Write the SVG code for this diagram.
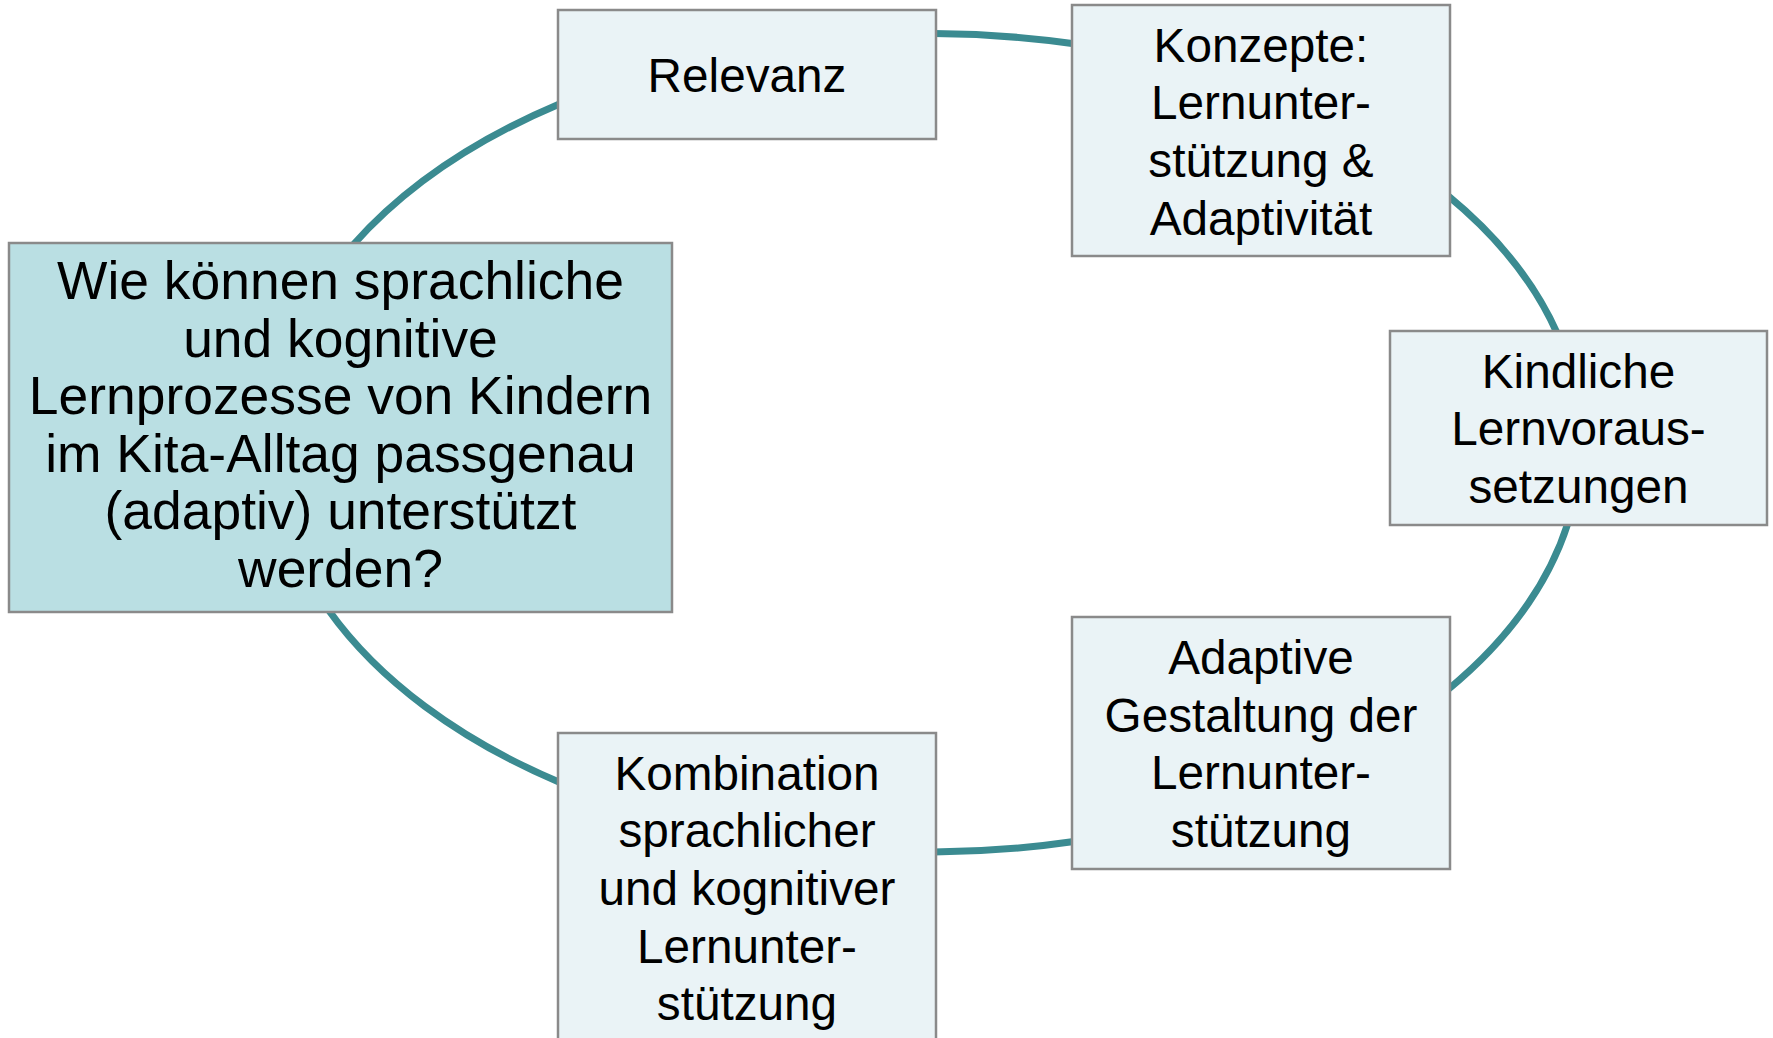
<svg xmlns="http://www.w3.org/2000/svg" width="1773" height="1038" viewBox="0 0 1773 1038">
<style>
.box{fill:#eaf3f6;stroke:#8a8a8a;stroke-width:2.5}
.main{fill:#badfe3;stroke:#8a8a8a;stroke-width:2.5}
.conn{fill:none;stroke:#3b8b91;stroke-width:7}
.t{font-family:"Liberation Sans",Arial,sans-serif;font-size:47.7px;fill:#000;text-anchor:middle}
.tm{font-family:"Liberation Sans",Arial,sans-serif;font-size:53.4px;fill:#000;text-anchor:middle}
</style>
<rect width="1773" height="1038" fill="#ffffff"/>
<g id="connectors">
<path class="conn" d="M353,245 A655.8,409.3 0 0 1 560,103.7"/>
<path class="conn" d="M934,33.5 A655.8,409.3 0 0 1 1074,43.8"/>
<path class="conn" d="M1448,195.8 A655.8,409.3 0 0 1 1557,333"/>
<path class="conn" d="M1568,523 A655.8,409.3 0 0 1 1448,689.6"/>
<path class="conn" d="M1074,841.5 A655.8,409.3 0 0 1 934,852"/>
<path class="conn" d="M560,782.5 A655.8,409.3 0 0 1 328.5,610"/>
</g>
<g id="node-main">
<rect class="main" x="9" y="243" width="663" height="369"/>
<text class="tm" x="340.5" y="299">Wie können sprachliche</text>
<text class="tm" x="340.5" y="356.5">und kognitive</text>
<text class="tm" x="340.5" y="414">Lernprozesse von Kindern</text>
<text class="tm" x="340.5" y="471.5">im Kita-Alltag passgenau</text>
<text class="tm" x="340.5" y="529">(adaptiv) unterstützt</text>
<text class="tm" x="340.5" y="586.5">werden?</text>
</g>
<g id="node-relevanz">
<rect class="box" x="558" y="10" width="378" height="129"/>
<text class="t" x="747" y="92">Relevanz</text>
</g>
<g id="node-konzepte">
<rect class="box" x="1072" y="5" width="378" height="251"/>
<text class="t" x="1261" y="61.5">Konzepte:</text>
<text class="t" x="1261" y="119.2">Lernunter-</text>
<text class="t" x="1261" y="176.9">stützung &amp;</text>
<text class="t" x="1261" y="234.6">Adaptivität</text>
</g>
<g id="node-kindliche">
<rect class="box" x="1390" y="331" width="377" height="194"/>
<text class="t" x="1578.5" y="387.5">Kindliche</text>
<text class="t" x="1578.5" y="445.2">Lernvoraus-</text>
<text class="t" x="1578.5" y="502.9">setzungen</text>
</g>
<g id="node-adaptive">
<rect class="box" x="1072" y="617" width="378" height="252"/>
<text class="t" x="1261" y="674">Adaptive</text>
<text class="t" x="1261" y="731.7">Gestaltung der</text>
<text class="t" x="1261" y="789.4">Lernunter-</text>
<text class="t" x="1261" y="847.1">stützung</text>
</g>
<g id="node-kombination">
<rect class="box" x="558" y="733" width="378" height="312"/>
<text class="t" x="747" y="789.5">Kombination</text>
<text class="t" x="747" y="847.2">sprachlicher</text>
<text class="t" x="747" y="904.9">und kognitiver</text>
<text class="t" x="747" y="962.6">Lernunter-</text>
<text class="t" x="747" y="1020.3">stützung</text>
</g>
</svg>
